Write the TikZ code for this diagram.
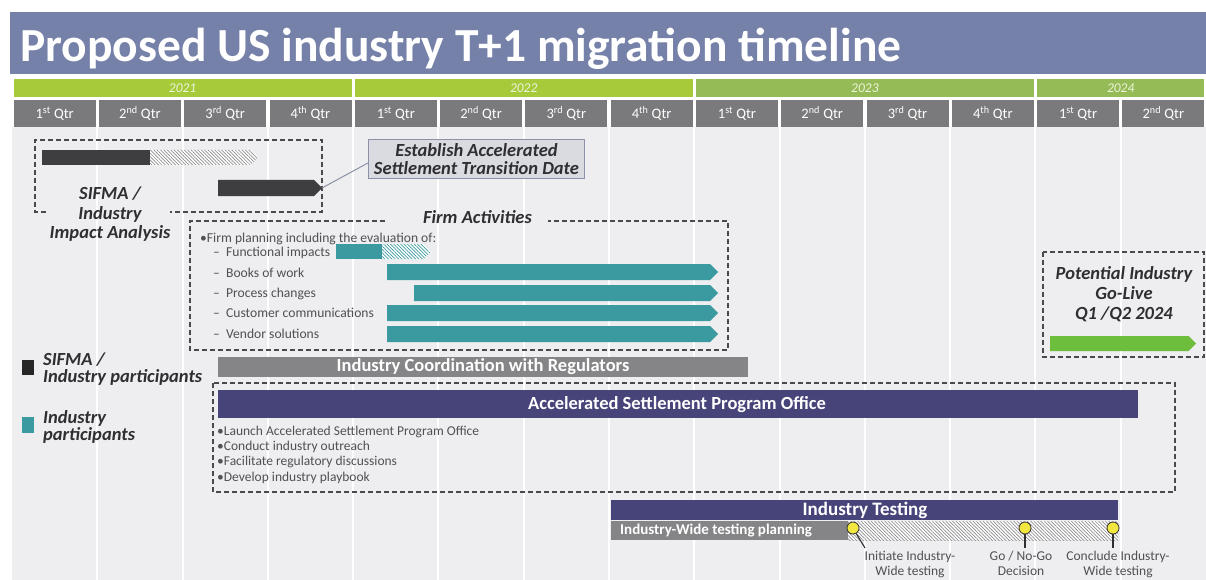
\documentclass[tikz,border=0pt]{standalone}
\usepackage{fontspec}
\setmainfont{Carlito}
\usetikzlibrary{patterns.meta}

\definecolor{titleblue}{HTML}{7581A8}
\definecolor{yearlime}{HTML}{A6CA3A}
\definecolor{yeargreen}{HTML}{94BB55}
\definecolor{yeartext}{HTML}{EEF4DC}
\definecolor{qgray}{HTML}{7A7A7C}
\definecolor{panel}{HTML}{EEEEF0}
\definecolor{darkbar}{HTML}{3E3E40}
\definecolor{tealbar}{HTML}{3B9A9F}
\definecolor{navybar}{HTML}{47447A}
\definecolor{coordgray}{HTML}{858587}
\definecolor{livegreen}{HTML}{6DBE3C}
\definecolor{inkdark}{HTML}{2F2F33}
\definecolor{inkgray}{HTML}{505055}
\definecolor{dashgray}{HTML}{4A4A4E}
\definecolor{calloutfill}{HTML}{DADBE0}
\definecolor{calloutline}{HTML}{8C91A8}
\definecolor{hatchgray}{HTML}{8E8E90}
\definecolor{pinyellow}{HTML}{F2E640}

% bar with a pointed right end: [style]{x1}{x2}{ytop}{ybottom}
\newcommand{\chevbar}[5][]{%
  \fill[#1] (#2,#4) -- ({#3-(#5-#4)/2},#4) -- (#3,{(#4+#5)/2})
    -- ({#3-(#5-#4)/2},#5) -- (#2,#5) -- cycle;}

\tikzset{
  hatchgrey/.style={white, postaction={pattern={Lines[angle=-45,distance=2.4pt,line width=0.7pt]}, pattern color=hatchgray}},
  hatchteal/.style={white, postaction={pattern={Lines[angle=-45,distance=2.4pt,line width=0.7pt]}, pattern color=tealbar}},
  yearbox/.style={fill=#1, minimum height=18pt, inner sep=0pt, text=yeartext,
    font=\fontsize{13.5}{15}\selectfont\itshape},
  qbox/.style={fill=qgray, minimum width=82pt, minimum height=27pt, inner sep=0pt,
    text=white, font=\fontsize{14.5}{16}\selectfont},
  gridline/.style={white, line width=2pt},
  dashbox/.style={draw=dashgray, line width=1.2pt, dash pattern=on 5pt off 3pt},
  headlbl/.style={text=inkdark, align=center, inner sep=0pt,
    font=\fontsize{18.5}{19.5}\selectfont\bfseries\itshape},
  smalltxt/.style={text=inkgray, anchor=base west, inner sep=0pt,
    font=\fontsize{13.6}{15}\selectfont},
  bullettxt/.style={text=inkgray, anchor=base west, inner sep=0pt,
    font=\fontsize{13.5}{15}\selectfont},
  bartxt/.style={text=white, inner sep=0pt, font=\fontsize{18.5}{20}\selectfont\bfseries},
  pin/.style={circle, fill=pinyellow, draw=inkdark, line width=0.8pt, minimum size=12pt, inner sep=0pt},
  stem/.style={draw=inkdark, line width=1.1pt},
  mslbl/.style={text=inkgray, align=center, anchor=north, inner sep=0pt,
    font=\fontsize{13.5}{14.5}\selectfont},
}

\begin{document}
\begin{tikzpicture}[x=1pt,y=-1pt]
\useasboundingbox (0,0) rectangle (1206,580);
\fill[white] (0,0) rectangle (1206,580);

% title band
\fill[titleblue] (10,12) rectangle (1206,74);
\node[anchor=base west, text=white, inner sep=0pt,
  font=\fontsize{47.5}{50}\selectfont\bfseries] (title) at (20,62)
  {Proposed US industry T+1 migration timeline};

% chart panel with quarter grid lines
\fill[panel] (12,127) rectangle (1206,580);
\foreach \i in {1,...,13}
  \draw[gridline] ({12+\i*85.2857},127) -- ({12+\i*85.2857},580);

% year row
\node[yearbox=yearlime, minimum width=338pt] (y2021) at (182.6,88) {2021};
\node[yearbox=yearlime, minimum width=338pt] (y2022) at (523.7,88) {2022};
\node[yearbox=yeargreen, minimum width=338pt] (y2023) at (864.9,88) {2023};
\node[yearbox=yeargreen, minimum width=167pt] (y2024) at (1120.7,88) {2024};

% quarter row
\foreach \n/\s [count=\i from 0] in {1/st,2/nd,3/rd,4/th,1/st,2/nd,3/rd,4/th,1/st,2/nd,3/rd,4/th,1/st,2/nd}
  \node[qbox] (q\i) at ({12+(\i+0.5)*85.2857},113.5) {\n\textsuperscript{\s}~Qtr};

% SIFMA / industry impact analysis
\draw[dashbox] (46,212) -- (35,212) -- (35,140) -- (322,140) -- (322,212) -- (170,212);
\fill[darkbar] (42,150) rectangle (150,165);
\chevbar[hatchgrey]{150}{258}{150}{165}
\chevbar[darkbar]{218}{322}{180}{196}
\coordinate (esttip) at (322,188);
\node[headlbl] (impact) at (110,214.5) {SIFMA /\\Industry\\Impact Analysis};

\node[headlbl, fill=calloutfill, draw=calloutline, line width=1.2pt,
  minimum width=216pt, minimum height=39pt, inner sep=1pt,
  font=\fontsize{18.5}{18}\selectfont\bfseries\itshape] (callout) at (476.5,159)
  {Establish Accelerated\\Settlement Transition Date};
\draw[calloutline, line width=1pt] ([yshift=-4pt]callout.west) -- (esttip);

% firm activities
\draw[dashbox] (385,221) -- (190,221) -- (190,350) -- (728,350) -- (728,221) -- (548,221);
\node[headlbl] (firm) at (477.5,217.5) {Firm Activities};
\node[smalltxt] (fp) at (200,242) {•Firm planning including the evaluation of:};
\node[smalltxt] (f1) at (213,256) {–~ Functional impacts};
\node[smalltxt] (f2) at (213,277) {–~ Books of work};
\node[smalltxt] (f3) at (213,297) {–~ Process changes};
\node[smalltxt] (f4) at (213,317) {–~ Customer communications};
\node[smalltxt] (f5) at (213,338) {–~ Vendor solutions};
\fill[tealbar] (336,244) rectangle (382,259);
\chevbar[hatchteal]{382}{431}{244}{259}
\chevbar[tealbar]{387}{718}{264}{280}
\chevbar[tealbar]{414}{718}{285}{301}
\chevbar[tealbar]{387}{718}{305}{321}
\chevbar[tealbar]{387}{718}{326}{342}

% legend
\fill[black!85] (22,360) rectangle (34,375);
\node[headlbl, align=left, anchor=west, font=\fontsize{18.5}{17.5}\selectfont\bfseries\itshape] (leg1) at (43,369) {SIFMA /\\Industry participants};
\fill[tealbar] (22,417) rectangle (34,433);
\node[headlbl, align=left, anchor=west, font=\fontsize{18.5}{17.5}\selectfont\bfseries\itshape] (leg2) at (43,427) {Industry\\participants};

% industry coordination
\fill[coordgray] (218,357) rectangle (748,377);
\node[bartxt] (coord) at (483,367) {Industry Coordination with Regulators};

% program office
\draw[dashbox] (213,383) rectangle (1175,492);
\fill[navybar] (218,390) rectangle (1138,418);
\node[bartxt] (aspo) at (677,404.5) {Accelerated Settlement Program Office};
\node[bullettxt] (b1) at (217,435) {•Launch Accelerated Settlement Program Office};
\node[bullettxt] (b2) at (217,450) {•Conduct industry outreach};
\node[bullettxt] (b3) at (217,465.5) {•Facilitate regulatory discussions};
\node[bullettxt] (b4) at (217,481) {•Develop industry playbook};

% go-live
\draw[dashbox] (1043,252) rectangle (1204,357);
\node[headlbl, font=\fontsize{18.5}{20}\selectfont\bfseries\itshape] (golive) at (1124,294) {Potential Industry\\Go-Live\\Q1 /Q2 2024};
\chevbar[livegreen]{1050}{1196}{336}{351}

% industry testing
\fill[navybar] (611,500) rectangle (1118,520);
\node[bartxt, font=\fontsize{19}{20}\selectfont\bfseries] (testing) at (865,510) {Industry Testing};
\fill[coordgray] (611,521) rectangle (848,540);
\node[bartxt, anchor=west, font=\fontsize{15}{16}\selectfont\bfseries] (plan) at (620,530.5)
  {Industry-Wide testing planning};
\fill[hatchgrey] (848,521) rectangle (1118,540);

\coordinate (s1) at (865,548);
\coordinate (s2) at (1025,548);
\coordinate (s3) at (1113,548);
\node[pin] (m1) at (853,528) {};
\node[pin] (m2) at (1025,528) {};
\node[pin] (m3) at (1113,528) {};
\draw[stem] (m1.-60) -- (s1);
\draw[stem] (m2.south) -- (s2);
\draw[stem] (m3.south) -- (s3);
\node[mslbl] (l1) at (910,551) {Initiate Industry-\\Wide testing};
\node[mslbl] (l2) at (1021,551) {Go / No-Go\\Decision};
\node[mslbl] (l3) at (1118,551) {Conclude Industry-\\Wide testing};
\end{tikzpicture}
\end{document}
